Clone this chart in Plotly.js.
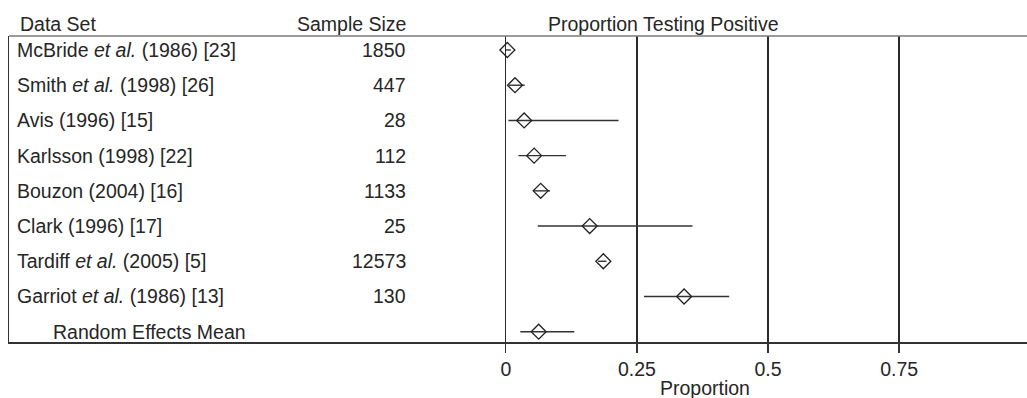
<!DOCTYPE html>
<html>
<head>
<meta charset="utf-8">
<script src="https://cdn.plot.ly/plotly-3.0.1.min.js"></script>
<style>html,body{margin:0;padding:0;background:#fff;}#chart{width:1027px;height:398px;}</style>
</head>
<body>
<div id="chart"></div>
<script>
// ---- data ----
const dataSets = [
  "McBride <i>et al.</i> (1986) [23]",
  "Smith <i>et al.</i> (1998) [26]",
  "Avis (1996) [15]",
  "Karlsson (1998) [22]",
  "Bouzon (2004) [16]",
  "Clark (1996) [17]",
  "Tardiff <i>et al.</i> (2005) [5]",
  "Garriot <i>et al.</i> (1986) [13]",
  "Random Effects Mean"
];
const sampleSizes = ["1850", "447", "28", "112", "1133", "25", "12573", "130", ""];
const proportion = [0.003, 0.0175, 0.035, 0.054, 0.0665, 0.16, 0.186, 0.34, 0.0627];
const ciLow      = [0.0005, 0.006, 0.005, 0.024, 0.0525, 0.061, 0.176, 0.2635, 0.0277];
const ciHigh     = [0.0095, 0.036, 0.215, 0.115, 0.0843, 0.356, 0.192, 0.426, 0.1307];
const tickVals   = [0, 0.25, 0.5, 0.75];
const tickText   = ["0", "0.25", "0.5", "0.75"];

// ---- layout helpers ----
const W = 1027, H = 398;
const L = 9, T = 36, B = 342;
const px = v => (v - L) / (W - L);
const py = v => (B - v) / (B - T);
const FONT = "Liberation Sans, Arial, Helvetica, sans-serif";
const TXT = "#262626";
const FS = 19.5;

const rows = dataSets.map((_, i) => i);

const trace = {
  type: "scatter",
  mode: "markers",
  x: proportion,
  y: rows,
  marker: {symbol: "diamond-open", size: 11.5, color: "#222", line: {width: 1.3, color: "#222"}},
  error_x: {
    type: "data", symmetric: false,
    array: proportion.map((p, i) => ciHigh[i] - p),
    arrayminus: proportion.map((p, i) => p - ciLow[i]),
    width: 0, thickness: 1.4, color: "#333"
  },
  hoverinfo: "skip",
  showlegend: false
};

const ann = [];
ann.push({xref: "paper", yref: "paper", x: px(18), y: py(24), xanchor: "left", yanchor: "middle", text: "Data Set", showarrow: false, font: {family: FONT, size: FS, color: TXT}});
ann.push({xref: "paper", yref: "paper", x: px(408), y: py(24), xanchor: "right", yanchor: "middle", text: "Sample Size", showarrow: false, font: {family: FONT, size: FS, color: TXT}});
ann.push({xref: "paper", yref: "paper", x: px(663), y: py(24), xanchor: "center", yanchor: "middle", text: "Proportion Testing Positive", showarrow: false, font: {family: FONT, size: FS, color: TXT}});
ann.push({xref: "paper", yref: "paper", x: px(705), y: py(388), xanchor: "center", yanchor: "middle", text: "Proportion", showarrow: false, font: {family: FONT, size: FS, color: TXT}});
dataSets.forEach((name, i) => {
  const indent = (i === dataSets.length - 1) ? 51 : 15;
  ann.push({xref: "paper", yref: "y", x: px(indent), y: rows[i], xanchor: "left", yanchor: "middle", text: name, showarrow: false, font: {family: FONT, size: FS, color: TXT}});
  if (sampleSizes[i]) {
    ann.push({xref: "paper", yref: "y", x: px(408), y: rows[i], xanchor: "right", yanchor: "middle", text: sampleSizes[i], showarrow: false, font: {family: FONT, size: FS, color: TXT}});
  }
});

const scale = 524.4, x0px = 505.8;
const layout = {
  width: W, height: H,
  margin: {l: L, r: 0, t: T, b: H - B, pad: 0},
  paper_bgcolor: "#fff", plot_bgcolor: "#fff",
  font: {family: FONT, size: FS, color: TXT},
  xaxis: {
    range: [(L - x0px) / scale, (W - x0px) / scale],
    tickvals: tickVals, ticktext: tickText,
    ticks: "outside", ticklen: 9, tickwidth: 1.3, tickcolor: "#333",
    showgrid: true, gridcolor: "#2a2a2a", gridwidth: 1.3,
    zeroline: false,
    showline: true, mirror: false, linecolor: "#333", linewidth: 1.5,
    tickfont: {family: FONT, size: FS, color: TXT},
    fixedrange: true
  },
  yaxis: {
    range: [8 + 10.3 / 35.2, -14 / 35.2],
    showticklabels: false, ticks: "", showgrid: false, zeroline: false,
    showline: true, mirror: false, linecolor: "#333", linewidth: 1.5,
    fixedrange: true
  },
  shapes: [{type: "line", xref: "paper", yref: "paper", x0: 0, x1: 1, y0: 1, y1: 1, line: {color: "#7a7a7a", width: 1.6}}],
  annotations: ann
};

Plotly.newPlot("chart", [trace], layout, {staticPlot: true, displayModeBar: false});
</script>
</body>
</html>
